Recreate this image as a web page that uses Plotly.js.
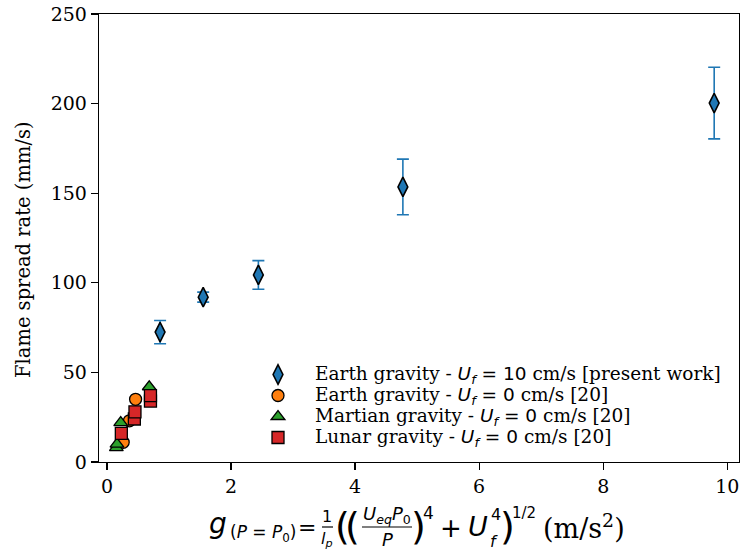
<!DOCTYPE html>
<html>
<head>
<meta charset="utf-8">
<script src="https://cdn.plot.ly/plotly-3.0.1.min.js"></script>
<style>html,body{margin:0;padding:0;background:#fff;}</style>
</head>
<body>
<div id="chart" style="width:741px;height:550px;"></div>
<script>
// Data
const earth10_x = [0.855, 1.55, 2.44, 4.77, 9.79];
const earth10_y = [72.5, 92.0, 104.4, 153.5, 200.3];
const earth10_err = [6.5, 2.8, 8.0, 15.5, 20.0];

const earth0_x = [0.26, 0.36, 0.46];
const earth0_y = [11.0, 23.0, 35.0];

const mars_x = [0.15, 0.16, 0.22, 0.68];
const mars_y = [8.0, 10.0, 22.0, 42.0];

const lunar_x = [0.23, 0.44, 0.45, 0.70, 0.70];
const lunar_y = [16.0, 24.0, 28.0, 34.0, 37.0];

const xTicks = [0, 2, 4, 6, 8, 10];
const yTicks = [0, 50, 100, 150, 200, 250];

const yTitle = 'Flame spread rate (mm/s)';

function lg(pre, val, post){
  return '<span style="font-size:18.5px">' + pre +
    '<span style="font-family:DejaVu Sans"><i>U<sub>f</sub></i> = ' + val + '</span> ' + post + '</span>';
}
const legendNames = [
  lg('Earth gravity - ', '10', 'cm/s [present work]'),
  lg('Earth gravity - ', '0', 'cm/s [20]'),
  lg('Martian gravity - ', '0', 'cm/s [20]'),
  lg('Lunar gravity - ', '0', 'cm/s [20]')
];

const W = 741, H = 550;
const L = 99, R = 2, T = 14, B = 88;
const pw = W - L - R, ph = H - T - B;
function px2x(px){ return (px - L) / pw; }
function py2y(py){ return (H - B - py) / ph; }

const traces = [
  {
    x: earth10_x, y: earth10_y, mode: 'markers', type: 'scatter', name: legendNames[0],
    error_y: {type: 'data', array: earth10_err, visible: true, color: '#1f77b4', thickness: 1.6, width: 6},
    marker: {symbol: 'diamond-tall', size: 14, color: '#1f77b4', line: {color: '#000', width: 1.6}}
  },
  {
    x: earth0_x, y: earth0_y, mode: 'markers', type: 'scatter', name: legendNames[1],
    marker: {symbol: 'circle', size: 12, color: '#ff7f0e', line: {color: '#000', width: 1.3}}
  },
  {
    x: mars_x, y: mars_y, mode: 'markers', type: 'scatter', name: legendNames[2],
    marker: {symbol: 'triangle-up', size: 12, color: '#2ca02c', line: {color: '#000', width: 1.3}}
  },
  {
    x: lunar_x, y: lunar_y, mode: 'markers', type: 'scatter', name: legendNames[3],
    marker: {symbol: 'square', size: 12, color: '#d62728', line: {color: '#000', width: 1.3}}
  }
];

const sans = 'DejaVu Sans';
const serif = 'DejaVu Serif';
const annotations = [];
const shapes = [];
function ann(text, px, py, size, family, xanchor, angle){
  annotations.push({
    text: text, xref: 'paper', yref: 'paper', x: px2x(px), y: py2y(py),
    xanchor: xanchor || 'left', yanchor: 'middle', showarrow: false, textangle: angle || 0,
    font: {family: family || sans, size: size, color: '#000000'}, borderpad: 0
  });
}
function hline(x0, x1, py){
  shapes.push({type: 'line', xref: 'paper', yref: 'paper', x0: px2x(x0), x1: px2x(x1),
    y0: py2y(py), y1: py2y(py), line: {color: '#000', width: 1.2}});
}
// y-axis title
ann(yTitle, 23, 250, 19.5, serif, 'center', -90);
// x-axis title, built from pieces (matplotlib mathtext look-alike)
ann('<i>g</i>', 208, 523, 28);
ann('(<i>P</i> = <i>P</i><sub>0</sub>)', 229, 533, 17);
ann('=', 297, 527, 22);
ann('1', 327, 516, 16, sans, 'center');
hline(322, 333, 527);
ann('<i>l<sub>p</sub></i>', 327, 539, 16, sans, 'center');
ann('(', 334, 526, 38);
ann('(', 344, 526, 38);
ann('<i>U</i><sub><i>eq</i></sub><i>P</i><sub>0</sub>', 387, 515, 18, sans, 'center');
hline(362, 412, 527);
ann('<i>P</i>', 387, 539, 18, sans, 'center');
ann(')', 410, 526, 38);
ann('4', 422, 513, 17);
ann('+', 451, 528, 26, sans, 'center');
ann('<i>U</i>', 467, 526, 27);
ann('4', 490, 514, 16);
ann('<i>f</i>', 489, 541, 16);
ann(')', 499, 526, 38);
ann('1/2', 511, 513, 15);
ann('(m/s<sup>2</sup>)', 542, 526, 27, serif);

const layout = {
  width: W, height: H,
  margin: {l: L, r: R, t: T, b: B, pad: 0},
  paper_bgcolor: '#fff', plot_bgcolor: '#fff',
  showlegend: true,
  font: {family: serif, size: 16, color: '#000'},
  xaxis: {
    range: [-0.13, 10.19], tickvals: xTicks, ticktext: xTicks.map(String),
    showgrid: false, zeroline: false, showline: true, mirror: true,
    linecolor: '#000', linewidth: 1.3, ticks: 'outside', ticklen: 7, tickwidth: 1.3, tickcolor: '#000',
    tickfont: {family: serif, size: 19, color: '#000'}
  },
  yaxis: {
    range: [0, 250], tickvals: yTicks, ticktext: yTicks.map(String),
    showgrid: false, zeroline: false, showline: true, mirror: true,
    linecolor: '#000', linewidth: 1.3, ticks: 'outside', ticklen: 7, tickwidth: 1.3, tickcolor: '#000',
    tickfont: {family: serif, size: 19, color: '#000'}
  },
  legend: {
    x: px2x(241), y: py2y(359), xanchor: 'left', yanchor: 'top',
    bgcolor: 'rgba(0,0,0,0)', borderwidth: 0,
    font: {family: serif, size: 13.85, color: '#000'},
    itemsizing: 'trace', itemwidth: 64, tracegroupgap: 0
  },
  annotations: annotations,
  shapes: shapes
};

Plotly.newPlot('chart', traces, layout, {displayModeBar: false, staticPlot: true});
</script>
</body>
</html>
